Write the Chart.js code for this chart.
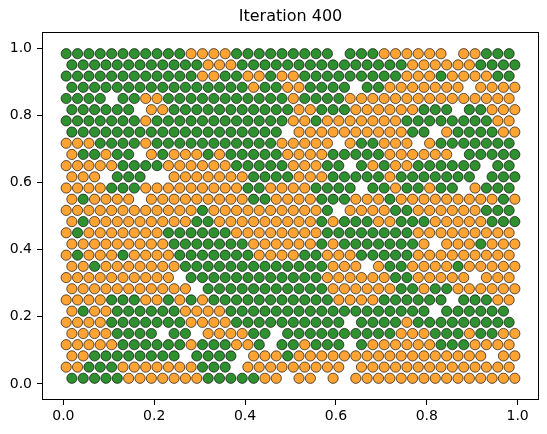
<!DOCTYPE html>
<html>
<head>
<meta charset="utf-8">
<title>Iteration 400</title>
<script src="https://cdn.jsdelivr.net/npm/chart.js@4.4.1/dist/chart.umd.min.js"></script>
<style>
  html, body { margin: 0; padding: 0; background: #fff; }
  #chart { display: block; }
</style>
</head>
<body>
<canvas id="chart" width="547" height="434"></canvas>
<script>
const titleText = 'Iteration 400'
const tickValues = [0, 0.2, 0.4, 0.6, 0.8, 1.0]
const tickLabels = ['0.0', '0.2', '0.4', '0.6', '0.8', '1.0']

// who sits where on a 40 x 30 grid, top row first.
// run-length: o = orange agent, g = green agent, . = empty cell
const gridRows = [
    'g11 o4 g9 .1 g3 o6 .1 o2 g3',
    'g12 o3 g15 o6 g4',
    'g12 o2 g2 o2 g1 o2 g9 o3 g1 o4 g2',
    'g16 o1 g2 o2 g4 .1 g2 o7 .1 o4',
    'g4 .1 g2 o2 g11 o1 g4 o15',
    'g6 .1 o2 g11 o2 g3 o6 g3 .1 g2 o3',
    'g7 o1 g12 o2 g1 o7 g8 o2',
    'g19 .1 o10 g2 .1 o1 g4 o2',
    'o3 g4 o1 g11 o5 .1 o1 g2 o3 .1 o1 g7',
    'o1 g2 o1 g2 .1 o1 g1 o3 g1 o1 g5 o4 g5 o6 .1 g5',
    'o5 g4 o6 g5 o3 g2 .1 g1 o1 g1 o2 g6 .1 g2',
    'o3 .1 g3 .2 o7 g4 o3 g5 o1 g7 .1 g3',
    'o4 g3 o9 g2 o4 g4 .1 g2 o1 g2 o1 g2 .1 o1 g3',
    'o1 g1 o4 .1 o9 g2 o4 g3 o3 g1 o9 g1 o1',
    'o12 g1 o10 g1 .1 o4 g2 o6 g3',
    'o1 g1 o9 g2 o9 g1 o1 g3 o2 g3 o5 g3',
    'o1 g1 o7 g6 o8 g8 o9',
    'o9 g7 o6 g1 o1 g7 o1 .1 o3 g1 o3',
    'o1 g1 o3 g1 o4 g7 o4 g2 o3 g5 o9',
    'o2 g1 o7 g13 o3 .1 o1 g2 o4 g1 o5',
    'o10 .1 g12 o6 g2 o5 .1 o3',
    'o11 .1 g11 o6 g2 o1 g2 o6',
    'o4 g3 o2 g1 o1 g1 o1 g11 o4 g6 .1 g3 o2',
    'o1 g1 o2 g6 o4 g18 .1 g6 .1',
    'o4 g7 o4 g10 .1 g4 o1 g9',
    'o4 g4 .1 g2 .1 o4 g2 .1 g10 o3 g3 o1 g2 o2',
    'o5 g6 o1 g3 o2 g1 .1 g2 o1 g3 .1 g1 o6 g3 o4',
    'o2 g8 .1 g4 .1 o3 g1 o17 .1 o2',
    'o2 g3 o7 g3 .1 o9 .1 o14',
    'g5 o7 g5 o2 .1 o2 .1 o1 .1 o15'
]
const nCols = 40
const nRows = 30

function expandRow(spec) {
    let cells = ''
    spec.split(' ').forEach((run) => {
        cells += run[0].repeat(parseInt(run.slice(1), 10))
    })
    return cells
}

const orangeAgents = []
const greenAgents = []
gridRows.forEach((spec, row) => {
    const cells = expandRow(spec)
    const shift = row % 2 ? 0.25 : -0.25
    for (let col = 0; col < cells.length; col++) {
        const pt = { x: (col + 0.5 + shift) / nCols, y: 1 - (row + 0.5) / nRows }
        if (cells[col] === 'o') orangeAgents.push(pt)
        else if (cells[col] === 'g') greenAgents.push(pt)
    }
})

// matplotlib style box round the axes, drawn over the points
const frame = {
    id: 'frame',
    afterDatasetsDraw(chart) {
        const { ctx, chartArea } = chart
        const l = Math.round(chartArea.left) + 0.5
        const t = Math.round(chartArea.top) + 0.5
        const r = Math.round(chartArea.right) - 0.5
        const b = Math.round(chartArea.bottom) - 0.5
        ctx.save()
        ctx.strokeStyle = '#000'
        ctx.lineWidth = 1
        ctx.strokeRect(l, t, r - l, b - t)
        ctx.restore()
    }
}

const tickFont = { family: 'DejaVu Sans', size: 14 }

const axis = (min, max, fit, pad) => ({
    type: 'linear',
    min: min,
    max: max,
    afterBuildTicks: (scale) => {
        scale.ticks = tickValues.map((v) => ({ value: v }))
    },
    afterFit: fit,
    grid: {
        drawOnChartArea: false,
        drawTicks: true,
        tickLength: 5,
        tickWidth: 1,
        tickColor: '#000'
    },
    border: { display: false },
    ticks: {
        color: '#000',
        font: tickFont,
        padding: pad,
        maxRotation: 0,
        autoSkip: false,
        callback: (value, index) => tickLabels[index]
    }
})

new Chart(document.getElementById('chart'), {
    type: 'scatter',
    data: {
        datasets: [
            {
                label: 'orange',
                data: orangeAgents,
                pointRadius: 5.1,
                pointHoverRadius: 5.1,
                backgroundColor: 'rgba(255, 140, 0, 0.8)',
                borderColor: 'rgba(0, 0, 0, 0.8)',
                borderWidth: 0.8
            },
            {
                label: 'green',
                data: greenAgents,
                pointRadius: 5.1,
                pointHoverRadius: 5.1,
                backgroundColor: 'rgba(0, 120, 0, 0.82)',
                borderColor: 'rgba(0, 0, 0, 0.8)',
                borderWidth: 0.8
            }
        ]
    },
    options: {
        responsive: false,
        animation: false,
        devicePixelRatio: 1,
        layout: { padding: { left: 0, right: 8, top: 0, bottom: 0 } },
        plugins: {
            legend: { display: false },
            tooltip: { enabled: false },
            title: {
                display: true,
                text: titleText,
                color: '#000',
                fullSize: false,
                font: { family: 'DejaVu Sans', size: 16, weight: 'normal', lineHeight: 1.2 },
                padding: { top: 7, bottom: 5.8 }
            }
        },
        scales: {
            x: axis(-0.047, 1.047, (s) => { s.height = 34 }, 3),
            y: axis(-0.048, 1.048, (s) => { s.width = 42 }, 5)
        }
    },
    plugins: [frame]
})
</script>
</body>
</html>
